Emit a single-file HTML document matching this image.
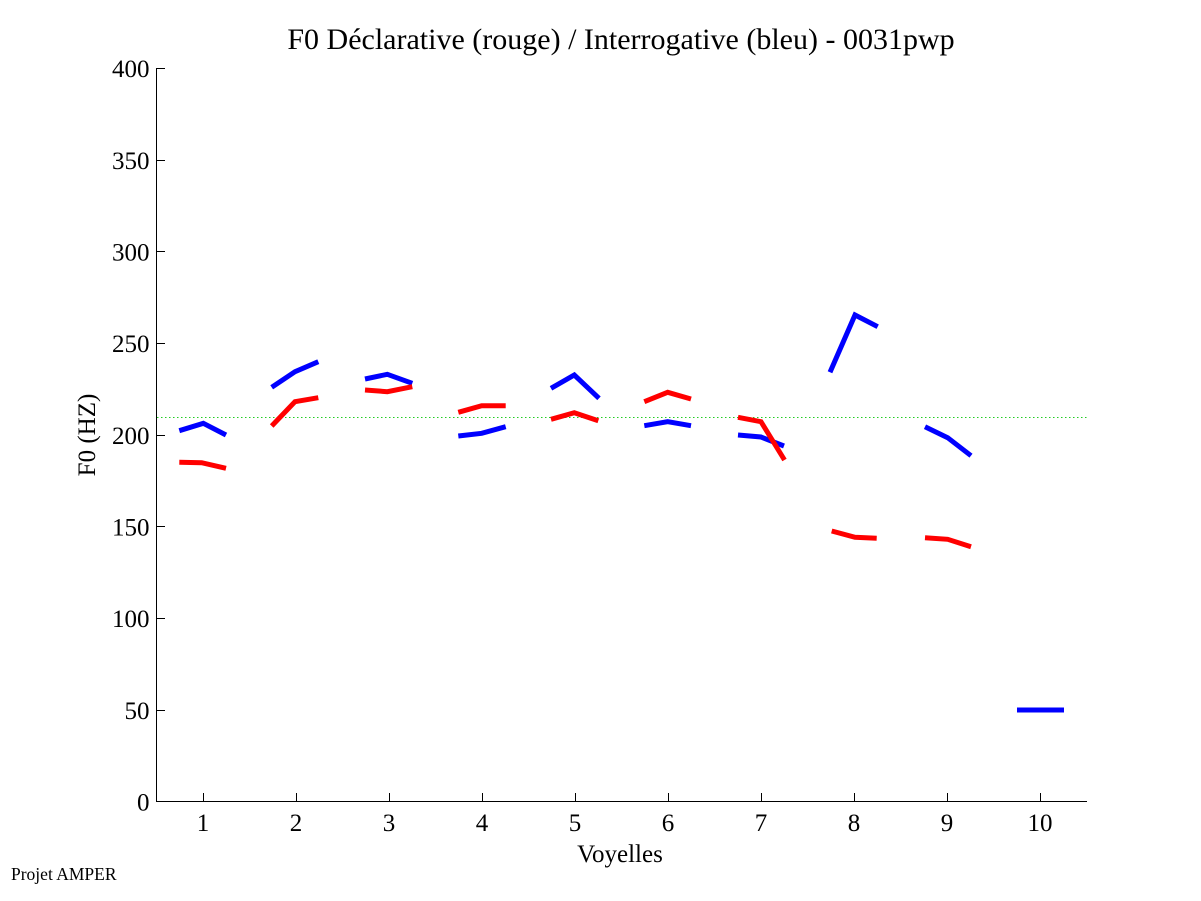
<!DOCTYPE html>
<html><head><meta charset="utf-8"><style>
html,body{margin:0;padding:0;background:#fff;}
svg{display:block;}
text{font-family:"Liberation Serif",serif;fill:#000;}
</style></head><body>
<svg width="1201" height="901" viewBox="0 0 1201 901" xmlns="http://www.w3.org/2000/svg">
<rect width="1201" height="901" fill="#fff"/>
<text x="621" y="49" font-size="30" text-anchor="middle">F0 Déclarative (rouge) / Interrogative (bleu) - 0031pwp</text>
<!-- axes -->
<g stroke="#000" stroke-width="1" fill="none" shape-rendering="crispEdges">
<line x1="156.5" y1="68" x2="156.5" y2="802"/>
<line x1="156" y1="801.5" x2="1087" y2="801.5"/>
<!-- y ticks -->
<line x1="156.5" y1="68.5" x2="165" y2="68.5"/>
<line x1="156.5" y1="160.5" x2="165" y2="160.5"/>
<line x1="156.5" y1="251.5" x2="165" y2="251.5"/>
<line x1="156.5" y1="343.5" x2="165" y2="343.5"/>
<line x1="156.5" y1="435.5" x2="165" y2="435.5"/>
<line x1="156.5" y1="526.5" x2="165" y2="526.5"/>
<line x1="156.5" y1="618.5" x2="165" y2="618.5"/>
<line x1="156.5" y1="710.5" x2="165" y2="710.5"/>
<!-- x ticks -->
<line x1="203.5" y1="801.5" x2="203.5" y2="793"/>
<line x1="296.5" y1="801.5" x2="296.5" y2="793"/>
<line x1="389.5" y1="801.5" x2="389.5" y2="793"/>
<line x1="482.5" y1="801.5" x2="482.5" y2="793"/>
<line x1="575.5" y1="801.5" x2="575.5" y2="793"/>
<line x1="668.5" y1="801.5" x2="668.5" y2="793"/>
<line x1="761.5" y1="801.5" x2="761.5" y2="793"/>
<line x1="854.5" y1="801.5" x2="854.5" y2="793"/>
<line x1="947.5" y1="801.5" x2="947.5" y2="793"/>
<line x1="1040.5" y1="801.5" x2="1040.5" y2="793"/>
</g>
<g font-size="25" text-anchor="end">
<text x="149.5" y="77">400</text>
<text x="149.5" y="169">350</text>
<text x="149.5" y="260.5">300</text>
<text x="149.5" y="352">250</text>
<text x="149.5" y="444">200</text>
<text x="149.5" y="535.5">150</text>
<text x="149.5" y="627">100</text>
<text x="149.5" y="719">50</text>
<text x="149.5" y="810.5">0</text>
</g>
<g font-size="25" text-anchor="middle">
<text x="203" y="831">1</text>
<text x="296" y="831">2</text>
<text x="389" y="831">3</text>
<text x="482" y="831">4</text>
<text x="575" y="831">5</text>
<text x="668" y="831">6</text>
<text x="761" y="831">7</text>
<text x="854" y="831">8</text>
<text x="947" y="831">9</text>
<text x="1040" y="831">10</text>
</g>
<text x="620" y="862" font-size="25" text-anchor="middle">Voyelles</text>
<text transform="translate(95,435) rotate(-90)" font-size="25" text-anchor="middle">F0 (HZ)</text>
<text x="11" y="880" font-size="17.5">Projet AMPER</text>
<!-- reference dotted line -->
<line x1="157" y1="417.5" x2="1087" y2="417.5" stroke="#22cc22" stroke-width="1" stroke-dasharray="1.5 2.5" shape-rendering="crispEdges"/>
<!-- blue series -->
<g stroke="#0000ff" stroke-width="5" fill="none" stroke-linejoin="miter">
<polyline points="179.3,430.7 203.3,423.3 226,435"/>
<polyline points="271.7,387.3 295,371.7 318.3,361.7"/>
<polyline points="365,379 387.3,374.3 412.3,383.3"/>
<polyline points="458.3,436 481.7,433.3 505.7,426.7"/>
<polyline points="551,388.3 574.3,375 599,398.3"/>
<polyline points="644.3,425.7 667.7,421.7 691,425.7"/>
<polyline points="738,435 761,437 784,446"/>
<polyline points="830,372.3 855,315 877.7,326.7"/>
<polyline points="925,426.7 947.7,437.7 971,455.7"/>
<polyline points="1017,710 1040,710 1064,710"/>
</g>
<!-- red series -->
<g stroke="#ff0000" stroke-width="5" fill="none" stroke-linejoin="miter">
<polyline points="179.3,462.3 201.7,462.7 226,468.3"/>
<polyline points="271.7,426 295,401.7 318.3,397.7"/>
<polyline points="365,390 387.3,391.7 412.3,386.7"/>
<polyline points="458.3,412.3 481.7,405.7 505.7,405.7"/>
<polyline points="551,419.3 574.3,412.7 598.3,420.7"/>
<polyline points="644.3,401.7 667.7,392.3 691,399"/>
<polyline points="738,417.3 761,421.7 784.5,460"/>
<polyline points="831.7,531 855,537.3 876.7,538.3"/>
<polyline points="925,537.7 947.7,539.3 971,546.7"/>
</g>
</svg>
</body></html>
